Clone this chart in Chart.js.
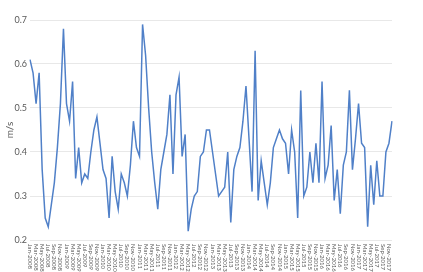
<!DOCTYPE html>
<html lang="en">
    <head>
        <meta charset="UTF-8" />
        <title>Wind speed m/s</title>
        <script src="https://cdn.jsdelivr.net/npm/chart.js@4.4.1/dist/chart.umd.min.js"></script>
        <style>
            body {
                margin: 0;
                background: #fff;
            }
            div.main {
                width: 423px;
                height: 272px;
            }
        </style>
    </head>

    <body>
        <div class="main">
            <canvas id="myChart" width="423" height="272"></canvas>
        </div>

        <script>
            // monthly values, Jan-2008 .. Dec-2017
            const months = ["Jan", "Feb", "Mar", "Apr", "May", "Jun", "Jul", "Aug", "Sep", "Oct", "Nov", "Dec"];
            const years = [2008, 2009, 2010, 2011, 2012, 2013, 2014, 2015, 2016, 2017];

            const speed = [
                0.61, 0.58, 0.51, 0.58, 0.36, 0.25, 0.23, 0.28, 0.33, 0.41, 0.51, 0.68,
                0.51, 0.47, 0.56, 0.34, 0.41, 0.33, 0.35, 0.34, 0.40, 0.45, 0.48, 0.42,
                0.36, 0.34, 0.25, 0.39, 0.31, 0.27, 0.35, 0.33, 0.30, 0.37, 0.47, 0.41,
                0.39, 0.69, 0.62, 0.50, 0.40, 0.33, 0.27, 0.36, 0.40, 0.44, 0.53, 0.35,
                0.53, 0.57, 0.39, 0.44, 0.22, 0.27, 0.30, 0.31, 0.39, 0.40, 0.45, 0.45,
                0.40, 0.35, 0.30, 0.31, 0.32, 0.40, 0.24, 0.36, 0.39, 0.41, 0.47, 0.55,
                0.43, 0.31, 0.63, 0.29, 0.38, 0.33, 0.28, 0.33, 0.41, 0.43, 0.45, 0.43,
                0.42, 0.35, 0.45, 0.40, 0.25, 0.54, 0.30, 0.32, 0.40, 0.33, 0.42, 0.33,
                0.56, 0.34, 0.37, 0.46, 0.29, 0.36, 0.26, 0.37, 0.40, 0.54, 0.36, 0.43,
                0.51, 0.42, 0.41, 0.23, 0.37, 0.28, 0.38, 0.30, 0.30, 0.40, 0.42, 0.47,
            ];

            const labels = [];
            years.forEach((y) => {
                months.forEach((m) => labels.push(m + "-" + y));
            });

            const textColor = "#595959";
            const fontFamily = "Lato, 'Liberation Sans', sans-serif";

            // x labels read top to bottom, every second month
            const monthLabels = {
                id: "monthLabels",
                afterDraw(chart) {
                    const ctx = chart.ctx;
                    const xs = chart.scales.x;
                    const top = chart.chartArea.bottom + 4;
                    ctx.save();
                    ctx.fillStyle = textColor;
                    ctx.font = "6px " + fontFamily;
                    ctx.textAlign = "left";
                    ctx.textBaseline = "middle";
                    labels.forEach((lab, i) => {
                        if (i % 2 !== 0) return;
                        ctx.save();
                        ctx.translate(xs.getPixelForValue(i), top);
                        ctx.rotate(Math.PI / 2);
                        ctx.fillText(lab, 0, 0);
                        ctx.restore();
                    });
                    ctx.restore();
                },
            };

            const ctx = document.getElementById("myChart").getContext("2d");
            const myChart = new Chart(ctx, {
                type: "line",
                data: {
                    labels: labels,
                    datasets: [
                        {
                            label: "m/s",
                            data: speed,
                            borderColor: "#5080c8",
                            borderWidth: 1.5,
                            pointRadius: 0,
                            fill: false,
                            tension: 0,
                        },
                    ],
                },
                options: {
                    responsive: false,
                    animation: false,
                    layout: {
                        padding: { top: 20, right: 31, left: 0, bottom: 0 },
                    },
                    plugins: {
                        legend: { display: false },
                        tooltip: { enabled: false },
                    },
                    scales: {
                        x: {
                            offset: false,
                            grid: { display: false },
                            border: { display: false },
                            ticks: { display: false },
                            afterFit: (scale) => {
                                scale.height = 32;
                            },
                        },
                        y: {
                            min: 0.2,
                            max: 0.7,
                            grid: { color: "#e8e8e8", drawTicks: false },
                            border: { display: false },
                            ticks: {
                                stepSize: 0.1,
                                padding: 3,
                                color: textColor,
                                font: { family: fontFamily, size: 9 },
                                callback: (v) => v.toFixed(1),
                            },
                            title: {
                                display: true,
                                text: "m/s",
                                color: textColor,
                                font: { family: fontFamily, size: 10 },
                                padding: { top: 4, bottom: 0 },
                            },
                            afterFit: (scale) => {
                                scale.width = 30;
                            },
                        },
                    },
                },
                plugins: [monthLabels],
            });
        </script>
    </body>
</html>
